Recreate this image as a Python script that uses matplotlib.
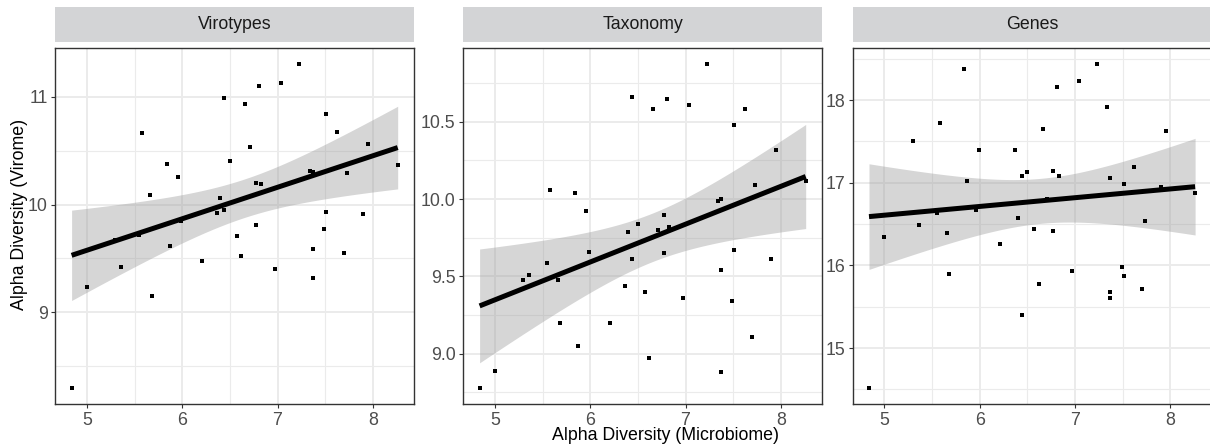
import numpy as np
import matplotlib
matplotlib.use("Agg")
import matplotlib.pyplot as plt
from matplotlib.ticker import MultipleLocator

plt.rcParams['font.family'] = ['Liberation Sans', 'DejaVu Sans']

# shared x: alpha diversity of the microbiome
microbiome = [4.84, 5.00, 5.30, 5.36, 5.55, 5.58, 5.66, 5.68, 5.84, 5.87, 5.96, 5.99,
              6.21, 6.37, 6.40, 6.44, 6.44, 6.50, 6.57, 6.62, 6.66, 6.71, 6.77, 6.77,
              6.81, 6.83, 6.97, 7.04, 7.23, 7.34, 7.37, 7.37, 7.37, 7.49, 7.51, 7.51,
              7.62, 7.70, 7.73, 7.90, 7.95, 8.26]

virotypes = [8.30, 9.24, 9.67, 9.42, 9.72, 10.66, 10.09, 9.15, 10.38, 9.62, 10.26, 9.85,
             9.48, 9.92, 10.06, 9.95, 10.99, 10.40, 9.71, 9.52, 10.93, 10.53, 10.20, 9.81,
             11.10, 10.19, 9.40, 11.13, 11.30, 10.31, 10.30, 9.59, 9.32, 9.77, 9.93, 10.84,
             10.67, 9.55, 10.29, 9.91, 10.56, 10.37]

taxonomy = [8.78, 8.89, 9.48, 9.51, 9.59, 10.06, 9.48, 9.20, 10.04, 9.05, 9.92, 9.66,
            9.20, 9.44, 9.79, 10.66, 9.61, 9.84, 9.40, 8.97, 10.58, 9.80, 9.90, 9.65,
            10.65, 9.82, 9.36, 10.61, 10.87, 9.99, 10.00, 9.54, 8.88, 9.34, 10.48, 9.67,
            10.58, 9.11, 10.09, 9.61, 10.32, 10.12]

genes = [14.52, 16.34, 17.51, 16.49, 16.64, 17.72, 16.39, 15.90, 18.37, 17.02, 16.67, 17.39,
         16.26, 17.39, 16.57, 17.08, 15.40, 17.13, 16.44, 15.77, 17.65, 16.80, 17.14, 16.42,
         18.16, 17.08, 15.93, 18.23, 18.43, 17.91, 17.06, 15.68, 15.61, 15.98, 16.98, 15.87,
         17.19, 15.71, 16.54, 16.95, 17.63, 16.87]

panels = ['Virotypes', 'Taxonomy', 'Genes']
series = [virotypes, taxonomy, genes]
y_major = [1.0, 0.5, 1.0]


def fit_lm(x, y, t_crit=2.021):
    # ordinary least squares with a 95% confidence band, like geom_smooth(method="lm")
    x = np.asarray(x)
    y = np.asarray(y)
    n = len(x)
    b, a = np.polyfit(x, y, 1)
    resid = y - (a + b * x)
    s = np.sqrt(np.sum(resid ** 2) / (n - 2))
    xs = np.linspace(x.min(), x.max(), 80)
    fit = a + b * xs
    se = s * np.sqrt(1.0 / n + (xs - x.mean()) ** 2 / np.sum((x - x.mean()) ** 2))
    return xs, fit, fit - t_crit * se, fit + t_crit * se


W, H = 1210, 446
fig = plt.figure(figsize=(W / 100, H / 100), dpi=100)

lefts = [55.3, 463.3, 852.7]
pw = 358.7
top_px, bot_px = 48.3, 404
strip_top, strip_bot = 7.3, 42.3
fs = 12.8

grid_col = '#EBEBEB'
for left, name, ys, ym in zip(lefts, panels, series, y_major):
    ax = fig.add_axes([left / W, 1 - bot_px / H, pw / W, (bot_px - top_px) / H])
    xs, fit, lo, hi = fit_lm(microbiome, ys)

    ax.fill_between(xs, lo, hi, color='#999999', alpha=0.4, lw=0, zorder=2)
    ax.plot(xs, fit, color='black', lw=3.6, zorder=3, solid_capstyle='butt')
    ax.scatter(microbiome, ys, marker='s', s=10, color='black', lw=0, zorder=4)

    xmin, xmax = min(microbiome), max(microbiome)
    dx = (xmax - xmin) * 0.05
    ax.set_xlim(xmin - dx, xmax + dx)
    ymin, ymax = min(min(ys), lo.min()), max(max(ys), hi.max())
    dy = (ymax - ymin) * 0.05
    ax.set_ylim(ymin - dy, ymax + dy)

    ax.xaxis.set_major_locator(MultipleLocator(1))
    ax.xaxis.set_minor_locator(MultipleLocator(0.5))
    ax.yaxis.set_major_locator(MultipleLocator(ym))
    ax.yaxis.set_minor_locator(MultipleLocator(ym / 2))
    if ym == 0.5:
        ax.yaxis.set_major_formatter(plt.FormatStrFormatter('%.1f'))

    ax.grid(True, which='major', color=grid_col, lw=1.4, zorder=0)
    ax.grid(True, which='minor', color=grid_col, lw=0.8, zorder=0)
    ax.set_axisbelow(True)

    ax.tick_params(which='major', length=3, width=0.8, color='#333333',
                   labelsize=fs, labelcolor='#4D4D4D', pad=2.5)
    ax.tick_params(which='minor', length=0)
    for sp in ax.spines.values():
        sp.set_color('#333333')
        sp.set_linewidth(1.0)

    # facet strip
    sax = fig.add_axes([left / W, 1 - strip_bot / H, pw / W, (strip_bot - strip_top) / H])
    sax.set_facecolor('#D3D4D6')
    sax.set_xticks([])
    sax.set_yticks([])
    for sp in sax.spines.values():
        sp.set_visible(False)
    sax.text(0.5, 0.5, name, ha='center', va='center', fontsize=fs,
             color='#1A1A1A', transform=sax.transAxes)

fig.text(20 / W, 1 - 214 / H, 'Alpha Diversity (Virome)', rotation=90,
         ha='center', va='center', fontsize=fs, color='black')
fig.text(666 / W, 2 / H, 'Alpha Diversity (Microbiome)',
         ha='center', va='bottom', fontsize=fs, color='black')

fig.savefig('out.png', dpi=100)
